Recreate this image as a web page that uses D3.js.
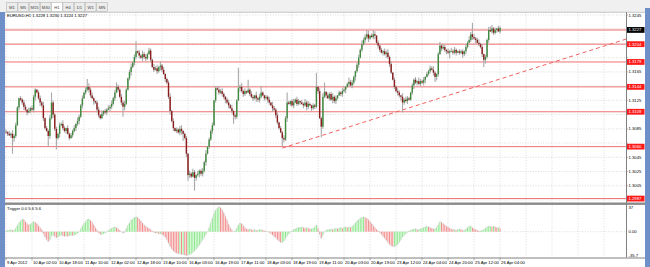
<!DOCTYPE html>
<html><head><meta charset="utf-8">
<script src="https://cdn.jsdelivr.net/npm/d3@7/dist/d3.min.js"></script>
<style>body{margin:0;background:#fff;}svg{display:block;font-family:"Liberation Sans",Arial,sans-serif;}</style>
</head><body><svg id="c" width="650" height="267"></svg>
<script>
// ---------------- DATA ----------------
const symbolTitle = "EURUSD,H1  1.3228 1.3230 1.3224 1.3227";
const indicatorTitle = "Trigger 0.0 5.6 5.6";
const timeframes = ["M1","M5","M15","M30","H1","H4","D1","W1","MN"];
const activeTimeframe = "H1";
const timeLabels = ["9 Apr 2012","10 Apr 02:00","10 Apr 18:00","11 Apr 10:00","12 Apr 02:00","12 Apr 18:00","13 Apr 10:00","16 Apr 03:00","16 Apr 19:00","17 Apr 11:00","18 Apr 03:00","18 Apr 19:00","19 Apr 11:00","20 Apr 03:00","20 Apr 19:00","23 Apr 12:00","24 Apr 04:00","24 Apr 20:00","25 Apr 12:00","26 Apr 04:00"];
const barsPerLabel = 16;
// closes in pips above 1.2900 (H1 bars)
const firstOpen = 181;
const closes = [
180,178,176,178,172,175,190,215,228,226,
222,216,212,208,210,214,212,230,240,236,
228,222,218,200,186,182,175,200,222,205,
185,172,178,190,192,186,182,186,178,172,
176,182,186,192,196,202,218,228,236,240,
244,240,232,228,224,222,212,204,200,206,
210,208,212,214,216,220,228,236,244,240,
230,222,216,220,240,256,265,272,278,286,
294,292,288,285,290,286,284,290,295,282,
272,268,270,266,272,274,268,262,255,250,
230,210,196,186,182,184,180,185,182,178,
172,150,120,122,118,124,116,120,122,126,
122,126,138,150,160,170,182,190,225,242,
240,236,238,234,230,226,222,218,214,210,
204,202,225,242,244,238,234,238,236,240,
234,230,228,232,228,226,230,236,232,228,
230,226,222,218,214,212,204,194,186,180,
172,170,200,222,220,224,218,222,226,220,
224,222,220,218,222,216,220,218,214,218,
216,244,238,200,188,230,237,232,228,234,
226,230,224,228,232,236,234,238,240,244,
248,251,246,250,258,266,275,285,296,304,
310,314,318,312,316,314,318,316,306,302,
296,292,294,290,292,286,276,264,254,244,
238,236,232,230,222,226,224,228,226,236,
246,254,250,252,248,252,250,254,258,262,
266,270,268,264,258,262,290,302,298,300,
296,294,292,294,294,292,296,292,294,292,
294,290,294,300,306,310,318,314,312,310,
306,304,300,290,282,286,310,324,322,326,
320,324,326,322,327];
// upper / lower wick lengths in pips, one digit per bar
const wickUp = "3242534213 2431524321 3425132413 2314253142 3241532413 2534213425 1324352413 2435213524 3142534213 2435132412 3524132451 2314253142 3425132413 2534213425 1324352413 2431524321 3241532413 2435213524 3142534213 2314253142 3524132451 2534213425 3425132413 1324352413 2431524321 3241532413 2435213524 3142534213 2314253142 3524132451 23142";
const wickDn = "2314253142 3524132451 2534213425 3425132413 1324352413 2431524321 3241532413 2435213524 3142534213 2314253142 3524132451 2534213425 3425132413 1324352413 2431524321 3242534213 2431524321 3425132413 2314253142 3241532413 2534213425 1324352413 2435213524 3142534213 2435132412 3524132451 2314253142 3425132413 2534213425 1324352413 32413";
// long shadows: [bar, high] and [bar, low] in pips above 1.2900
const highSpikes = [[28,236],[50,255],[68,250],[80,308],[88,299],[95,280],[143,271],[149,254],[157,245],[173,236],[191,264],[196,250],[211,257],[222,324],[226,324],[287,334],[299,331]];
const lowSpikes = [[4,150],[26,160],[31,156],[72,202],[109,168],[112,112],[116,98],[140,192],[170,160],[194,173],[244,208],[264,251],[273,284],[294,272]];
const levels = [1.3204,1.3179,1.3144,1.3109,1.3060,1.2987];
const levelLabels = ["1.3204","1.3179","1.3144","1.3109","1.3060","1.2987"];
const pinkLevel = 1.3224;
const bidPrice = 1.3224;
const bidLabel = "1.3227";
const trendPoints = [[170,1.3058],[295,1.31485]];
const priceTicks = [1.3245,1.3225,1.3205,1.3185,1.3165,1.3145,1.3125,1.3105,1.3085,1.3065,1.3045,1.3025,1.3005,1.2985];
const priceTickLabels = ["1.3245","1.3225","1.3205","1.3185","1.3165","1.3145","1.3125","1.3105","1.3085","1.3065","1.3045","1.3025","1.3005","1.2985"];
const trigger = [
1,2,2,3,2,2,5,9,13,16,
19,18,15,12,10,11,13,15,14,12,
9,6,3,-3,-8,-12,-15,-12,-6,-5,
-7,-9,-8,-6,-5,-6,-7,-6,-7,-6,
-5,-6,-5,-4,-2,0,4,8,12,15,
18,19,17,14,10,6,2,-2,-4,-4,
-3,-2,0,2,3,5,6,7,6,4,
2,0,-2,-1,4,9,13,17,19,21,
22,21,19,16,13,10,8,6,5,3,
1,-1,-2,-2,-3,-3,-4,-6,-8,-12,
-17,-22,-26,-29,-31,-32,-33,-33,-34,-34,
-35,-35.7,-35,-34,-33,-31,-29,-26,-23,-20,
-16,-12,-8,-4,0,6,13,20,27,32,
35,37,36,33,28,23,17,11,6,2,
0,1,5,10,13,12,9,6,4,3,
4,3,2,3,2,2,3,3,2,1,
1,0,-1,-3,-5,-7,-9,-12,-14,-16,
-16,-14,-10,-6,-3,-1,1,3,4,5,
6,6,7,6,5,6,5,4,4,5,
7,10,5,-4,-10,-5,0,2,3,3,
4,3,4,5,4,5,6,5,6,7,
6,7,6,8,10,13,16,18,20,21,
22,21,20,18,15,12,9,6,3,1,
-1,-4,-7,-10,-13,-16,-19,-21,-22,-22,
-21,-19,-16,-12,-8,-5,-3,-1,1,2,
3,4,4,3,3,4,5,6,7,8,
7,6,5,4,4,6,10,15,14,12,
10,8,7,5,4,3,3,2,3,4,
3,2,2,4,6,8,8,6,4,3,
2,1,1,2,3,5,7,8,8,7,
8,7,6,6,5];
const triggerTicks = [37,0,-35.7];
const triggerTickLabels = ["37","0.00","-35.7"];

// ---------------- DRAWING ----------------
const svg = d3.select("#c");
const W = 650, H = 267;
const plotL = 5, plotR = 626, mainT = 12, mainB = 202.5, indT = 205, indB = 257.5;
const slots = 381.5;
const x = d3.scaleLinear().domain([0, slots]).range([6, plotR]);
const y = d3.scaleLinear().domain([1.2985, 1.3245]).range([200, 15]);
const yI = d3.scaleLinear().domain([-35.7, 37]).range([255.5, 207]);
const P = v => 1.29 + v / 10000;
const FS = 4.2;

svg.append("rect").attr("width", W).attr("height", H).attr("fill", "#fff");
// toolbar
svg.append("rect").attr("x", 0).attr("y", 0).attr("width", W).attr("height", mainT).attr("fill", "#f0f0f0");
const tabs = svg.append("g");
timeframes.forEach((t, k) => {
  const cx = 12 + 11.25 * k;
  tabs.append("rect").attr("x", cx - 5.3).attr("y", 2.5).attr("width", 10.6).attr("height", 9)
    .attr("fill", t === activeTimeframe ? "#ffffff" : "#ececec").attr("stroke", "#b8b8b8").attr("stroke-width", 0.6);
  tabs.append("text").attr("x", cx).attr("y", 8.7).attr("text-anchor", "middle").attr("font-size", FS).attr("fill", "#444").text(t);
});
// side frames
svg.append("rect").attr("x", 0).attr("y", mainT).attr("width", 5).attr("height", H - mainT).attr("fill", "#6f8fc8");
svg.append("rect").attr("x", 645).attr("y", 8).attr("width", 5).attr("height", H - 8).attr("fill", "#6f8fc8");

const defs = svg.append("defs");
defs.append("clipPath").attr("id", "cm").append("rect").attr("x", plotL).attr("y", mainT).attr("width", plotR - plotL).attr("height", mainB - mainT);
defs.append("clipPath").attr("id", "ci").append("rect").attr("x", plotL).attr("y", indT).attr("width", plotR - plotL).attr("height", indB - indT);

// grid
const grid = svg.append("g").attr("stroke", "#c4c4c4").attr("stroke-width", 0.6).attr("stroke-dasharray", "1,1.6");
const vTicks = d3.range(0, slots, barsPerLabel);
vTicks.forEach(b => {
  grid.append("line").attr("x1", x(b)).attr("x2", x(b)).attr("y1", mainT).attr("y2", mainB);
  grid.append("line").attr("x1", x(b)).attr("x2", x(b)).attr("y1", indT).attr("y2", indB);
});
priceTicks.forEach(p => grid.append("line").attr("x1", plotL).attr("x2", plotR).attr("y1", y(p)).attr("y2", y(p)));
grid.append("line").attr("x1", plotL).attr("x2", plotR).attr("y1", yI(0)).attr("y2", yI(0));

// main chart content
const main = svg.append("g").attr("clip-path", "url(#cm)");
main.append("line").attr("x1", plotL).attr("x2", plotR).attr("y1", y(pinkLevel)).attr("y2", y(pinkLevel))
  .attr("stroke", "#f4b4b4").attr("stroke-width", 2.2);
levels.forEach(p => main.append("line").attr("x1", plotL).attr("x2", plotR).attr("y1", y(p)).attr("y2", y(p))
  .attr("stroke", "#f07070").attr("stroke-width", 1));
// trend line (ray)
const [[b1, p1], [b2, p2]] = trendPoints;
const slope = (p2 - p1) / (b2 - b1);
main.append("line").attr("x1", x(b1)).attr("y1", y(p1)).attr("x2", x(slots)).attr("y2", y(p1 + slope * (slots - b1)))
  .attr("stroke", "#f06060").attr("stroke-width", 1).attr("stroke-dasharray", "4,3");

const up = wickUp.replace(/\s/g, ""), dn = wickDn.replace(/\s/g, "");
const hiMap = new Map(highSpikes), loMap = new Map(lowSpikes);
const bars = closes.map((c, i) => {
  const o = i ? closes[i - 1] : firstOpen;
  const top = Math.max(o, c), bot = Math.min(o, c);
  const h = hiMap.has(i) ? hiMap.get(i) : top + (+up[i] || 2);
  const l = loMap.has(i) ? loMap.get(i) : bot - (+dn[i] || 2);
  return { i, o: P(o), c: P(c), h: P(h), l: P(l) };
});
main.append("g").selectAll("line").data(bars).join("line")
  .attr("x1", d => x(d.i)).attr("x2", d => x(d.i)).attr("y1", d => y(d.h)).attr("y2", d => y(d.l))
  .attr("stroke", "#a9a9a9").attr("stroke-width", 1.1);
main.append("g").selectAll("rect").data(bars).join("rect")
  .attr("x", d => x(d.i) - 0.7).attr("width", 1.4)
  .attr("y", d => y(Math.max(d.o, d.c)))
  .attr("height", d => Math.max(0.8, Math.abs(y(d.o) - y(d.c))))
  .attr("fill", d => d.c >= d.o ? "#3d8a3d" : "#8c1c1c");

svg.append("text").attr("x", 7).attr("y", 17.3).attr("font-size", FS).attr("fill", "#000").text(symbolTitle);

// separator + axes frame
svg.append("rect").attr("x", plotL).attr("y", mainB).attr("width", plotR - plotL + 19).attr("height", 2.4).attr("fill", "#8a8a8a");
svg.append("line").attr("x1", plotR + 0.5).attr("x2", plotR + 0.5).attr("y1", mainT).attr("y2", indB).attr("stroke", "#808080").attr("stroke-width", 1);
svg.append("line").attr("x1", plotL).attr("x2", plotR + 19).attr("y1", indB + 0.5).attr("y2", indB + 0.5).attr("stroke", "#808080").attr("stroke-width", 1);
svg.append("line").attr("x1", plotL).attr("x2", 645).attr("y1", mainT + 0.3).attr("y2", mainT + 0.3).attr("stroke", "#a0a0a0").attr("stroke-width", 0.6);

// indicator
const ind = svg.append("g").attr("clip-path", "url(#ci)");
ind.append("g").selectAll("line").data(trigger).join("line")
  .attr("x1", (d, i) => x(i)).attr("x2", (d, i) => x(i))
  .attr("y1", yI(0)).attr("y2", d => yI(d))
  .attr("stroke", (d, i) => (i === 0 || d >= trigger[i - 1]) ? "#8ee88e" : "#f28c8c").attr("stroke-width", 1);
ind.append("path").datum(trigger).attr("fill", "none").attr("stroke", "#d0d0d0").attr("stroke-width", 0.6)
  .attr("d", d3.line().x((d, i) => x(i)).y(d => yI(d)));
svg.append("text").attr("x", 7).attr("y", 209.5).attr("font-size", FS).attr("fill", "#000").text(indicatorTitle);

// price axis (gray tick labels hidden where a coloured marker label covers them)
const pa = svg.append("g").attr("font-size", FS).attr("fill", "#000");
const markerYs = levels.map(p => y(p)).concat([y(bidPrice)]);
priceTicks.forEach((p, k) => {
  pa.append("line").attr("x1", plotR).attr("x2", plotR + 2).attr("y1", y(p)).attr("y2", y(p)).attr("stroke", "#808080").attr("stroke-width", 0.6);
  if (markerYs.some(my => Math.abs(my - y(p)) < 5.5)) return;
  pa.append("text").attr("x", 628.5).attr("y", y(p) + 1.5).text(priceTickLabels[k]);
});
levels.forEach((p, k) => {
  pa.append("rect").attr("x", 627).attr("y", y(p) - 2.9).attr("width", 17.5).attr("height", 5.8).attr("fill", "#ff1a1a");
  pa.append("text").attr("x", 628.5).attr("y", y(p) + 1.5).attr("fill", "#fff").text(levelLabels[k]);
});
pa.append("rect").attr("x", 627).attr("y", y(bidPrice) - 2.9).attr("width", 17.5).attr("height", 5.8).attr("fill", "#000");
pa.append("text").attr("x", 628.5).attr("y", y(bidPrice) + 1.5).attr("fill", "#fff").text(bidLabel);
triggerTicks.forEach((v, k) => pa.append("text").attr("x", 628.5).attr("y", Math.min(256.5, Math.max(208.5, yI(v) + 1.5))).text(triggerTickLabels[k]));

// time axis
const ta = svg.append("g").attr("font-size", FS).attr("fill", "#000");
timeLabels.forEach((t, k) => {
  const b = k * barsPerLabel;
  ta.append("line").attr("x1", x(b)).attr("x2", x(b)).attr("y1", indB).attr("y2", indB + 3).attr("stroke", "#808080").attr("stroke-width", 0.6);
  ta.append("text").attr("x", x(b) + 1).attr("y", 264).text(t);
});
</script></body></html>
